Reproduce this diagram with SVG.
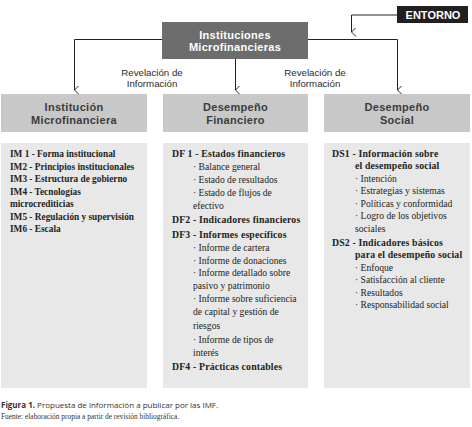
<svg xmlns="http://www.w3.org/2000/svg" width="472" height="427" viewBox="0 0 472 427">
<style>
.hdr{fill:#c8c8c8}
.body{fill:#e8e8e8}
.ht{font-family:"Liberation Sans",Arial,sans-serif;font-size:11px;font-weight:700;letter-spacing:0.3px;fill:#3c3c3c;text-anchor:middle}
.wt{font-family:"Liberation Sans",Arial,sans-serif;font-weight:700;fill:#ffffff;text-anchor:middle}
.lbl{font-family:"Liberation Sans",Arial,sans-serif;font-size:9.7px;fill:#2a2a2a;text-anchor:middle}
.t{font-family:"Liberation Serif",serif;font-size:9.6px;fill:#231f20}
.b{font-weight:700;font-size:9.8px;letter-spacing:0.15px}
.l{font-weight:700;font-size:9.3px}
.con{fill:none;stroke:#222;stroke-width:1}
.cap{font-family:"Open Sans",sans-serif;font-size:8px;fill:#333}
.src{font-family:"Liberation Serif",serif;font-size:7.4px;fill:#333}
</style>
<defs>
<marker id="v" viewBox="0 0 10 10" refX="5" refY="9" markerWidth="9" markerHeight="9" markerUnits="userSpaceOnUse" orient="auto-start-reverse">
<path d="M0,4 L5,9 L10,4" fill="none" stroke="#222" stroke-width="1.1"/>
</marker>
</defs>

<g id="connectors">
<path class="con" d="M397,15 H351.5 V32" marker-end="url(#v)"/>
<path class="con" d="M162,39.5 H74.5 V90" marker-end="url(#v)"/>
<path class="con" d="M235.5,59 V90" marker-end="url(#v)"/>
<path class="con" d="M308,39.5 H397.5 V90" marker-end="url(#v)"/>
</g>

<g id="entorno">
<rect x="397" y="6" width="71" height="17" fill="#231f20"/>
<text class="wt" x="433" y="18.5" font-size="11">ENTORNO</text>
</g>

<g id="instituciones">
<rect x="162" y="22" width="146" height="37" fill="#6d6d6d"/>
<text class="wt" x="235" y="38.5" font-size="11" letter-spacing="0.3">Instituciones</text>
<text class="wt" x="235" y="51" font-size="11" letter-spacing="0.3">Microfinancieras</text>
</g>

<g id="label-left">
<text class="lbl" x="152" y="76">Revelación de</text>
<text class="lbl" x="152" y="87">Información</text>
</g>
<g id="label-right">
<text class="lbl" x="315" y="76">Revelación de</text>
<text class="lbl" x="315" y="87">Información</text>
</g>

<g id="institucion">
<rect class="hdr" x="1" y="94" width="146" height="38"/>
<text class="ht" x="74" y="111">Institución</text>
<text class="ht" x="74" y="123.5">Microfinanciera</text>
<rect class="body" x="1" y="143" width="146" height="245"/>
<text class="t l" x="10" y="157">IM 1 - Forma institucional</text>
<text class="t l" x="10" y="169.5">IM2 - Principios institucionales</text>
<text class="t l" x="10" y="182">IM3 - Estructura de gobierno</text>
<text class="t l" x="10" y="194.5">IM4 - Tecnologías</text>
<text class="t l" x="10" y="207">microcrediticias</text>
<text class="t l" x="10" y="219.5">IM5 - Regulación y supervisión</text>
<text class="t l" x="10" y="232">IM6 - Escala</text>
</g>

<g id="financiero">
<rect class="hdr" x="163" y="94" width="145" height="38"/>
<text class="ht" x="235.5" y="111">Desempeño</text>
<text class="ht" x="235.5" y="123.5">Financiero</text>
<rect class="body" x="163" y="143" width="145" height="245"/>
<text class="t b" x="172" y="157">DF 1 - Estados financieros</text>
<text class="t" x="193" y="170">· Balance general</text>
<text class="t" x="193" y="183">· Estado de resultados</text>
<text class="t" x="193" y="196">· Estado de flujos de</text>
<text class="t" x="193" y="209">efectivo</text>
<text class="t b" x="172" y="223">DF2 - Indicadores financieros</text>
<text class="t b" x="172" y="238">DF3 - Informes específicos</text>
<text class="t" x="193" y="251">· Informe de cartera</text>
<text class="t" x="193" y="263.5">· Informe de donaciones</text>
<text class="t" x="193" y="276">· Informe detallado sobre</text>
<text class="t" x="193" y="289">pasivo y patrimonio</text>
<text class="t" x="193" y="302">· Informe sobre suficiencia</text>
<text class="t" x="193" y="315">de capital y gestión de</text>
<text class="t" x="193" y="329">riesgos</text>
<text class="t" x="193" y="343">· Informe de tipos de</text>
<text class="t" x="193" y="356">interés</text>
<text class="t b" x="172" y="370">DF4 - Prácticas contables</text>
</g>

<g id="social">
<rect class="hdr" x="324" y="94" width="146" height="38"/>
<text class="ht" x="397" y="111">Desempeño</text>
<text class="ht" x="397" y="123.5">Social</text>
<rect class="body" x="324" y="143" width="146" height="245"/>
<text class="t b" x="332" y="156.5">DS1 - Información sobre</text>
<text class="t b" x="355" y="169">el desempeño social</text>
<text class="t" x="355" y="181.5">· Intención</text>
<text class="t" x="355" y="194">· Estrategias y sistemas</text>
<text class="t" x="355" y="206.5">· Políticas y conformidad</text>
<text class="t" x="355" y="219">· Logro de los objetivos</text>
<text class="t" x="355" y="231.5">sociales</text>
<text class="t b" x="332" y="245.5">DS2 - Indicadores básicos</text>
<text class="t b" x="355" y="258">para el desempeño social</text>
<text class="t" x="355" y="270.5">· Enfoque</text>
<text class="t" x="355" y="283">· Satisfacción al cliente</text>
<text class="t" x="355" y="295.5">· Resultados</text>
<text class="t" x="355" y="308">· Responsabilidad social</text>
</g>

<g id="caption">
<text class="cap" x="1" y="408"><tspan font-weight="700">Figura 1.</tspan> Propuesta de información a publicar por las IMF.</text>
<text class="src" x="1" y="419">Fuente: elaboración propia a partir de revisión bibliográfica.</text>
</g>
</svg>
